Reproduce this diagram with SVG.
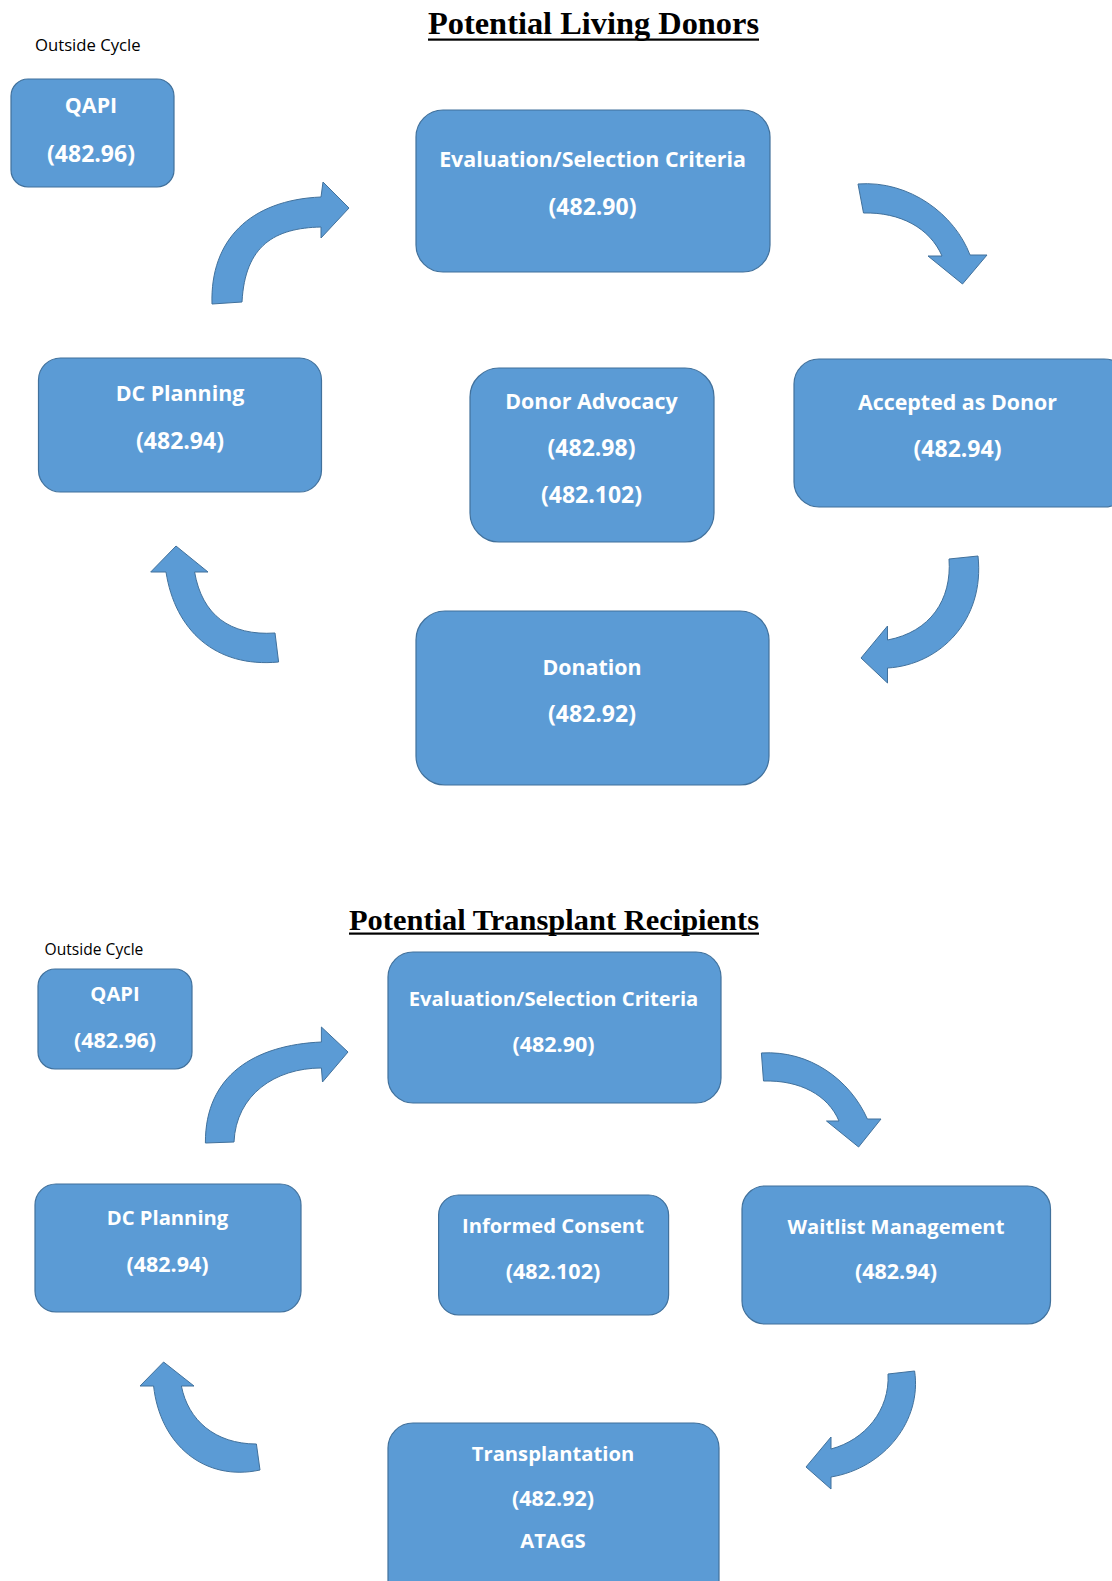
<svg xmlns="http://www.w3.org/2000/svg" width="1112" height="1581" viewBox="0 0 1112 1581">
<style>
.box{fill:#5B9BD5;stroke:#41719C;stroke-width:1.2}
.arr{fill:#5B9BD5;stroke:#41719C;stroke-width:1}
.t1{font-family:"Open Sans","Liberation Sans",sans-serif;font-weight:bold;font-size:21.4px;fill:#fff;text-anchor:middle}
.n1{font-family:"Open Sans","Liberation Sans",sans-serif;font-weight:bold;font-size:23px;fill:#fff;text-anchor:middle}
.t2{font-family:"Open Sans","Liberation Sans",sans-serif;font-weight:bold;font-size:20.2px;fill:#fff;text-anchor:middle}
.n2{font-family:"Open Sans","Liberation Sans",sans-serif;font-weight:bold;font-size:21.5px;fill:#fff;text-anchor:middle}
.oc{font-family:"Open Sans","Liberation Sans",sans-serif;fill:#000}
.title{font-family:"Liberation Serif","Times New Roman",serif;font-weight:bold;fill:#000}
</style>
<rect width="1112" height="1581" fill="#fff"/>

<!-- Top section -->
<text class="title" x="428" y="33.5" font-size="32" textLength="331" lengthAdjust="spacingAndGlyphs">Potential Living Donors</text>
<rect x="428" y="38.5" width="331" height="2.2" fill="#000"/>
<text class="oc" x="35" y="50.5" font-size="16.7">Outside Cycle</text>

<g id="qapi1"><rect class="box" x="11" y="79" width="163" height="108" rx="17"/>
<text class="t1" x="91" y="113">QAPI</text><text class="n1" x="91" y="162">(482.96)</text></g>

<g id="eval1"><rect class="box" x="416" y="110" width="354" height="162" rx="27"/>
<text class="t1" x="592.5" y="167">Evaluation/Selection Criteria</text><text class="n1" x="592.5" y="215">(482.90)</text></g>

<g id="dc1"><rect class="box" x="38.5" y="358" width="283" height="134" rx="22"/>
<text class="t1" x="180" y="401">DC Planning</text><text class="n1" x="180" y="449">(482.94)</text></g>

<g id="adv1"><rect class="box" x="470" y="368" width="244" height="174" rx="29"/>
<text class="t1" x="591.5" y="409">Donor Advocacy</text><text class="n1" x="591.5" y="456">(482.98)</text><text class="n1" x="591.5" y="503">(482.102)</text></g>

<g id="acc1"><rect class="box" x="794" y="359" width="335" height="148" rx="25"/>
<text class="t1" x="957.5" y="410">Accepted as Donor</text><text class="n1" x="957.5" y="457">(482.94)</text></g>

<g id="don1"><rect class="box" x="416" y="611" width="353" height="174" rx="29"/>
<text class="t1" x="592" y="675">Donation</text><text class="n1" x="592" y="722">(482.92)</text></g>

<!-- Bottom section -->
<text class="title" x="349" y="930" font-size="30" textLength="410" lengthAdjust="spacingAndGlyphs">Potential Transplant Recipients</text>
<rect x="349" y="932.5" width="410" height="2.2" fill="#000"/>
<text class="oc" x="44.6" y="955" font-size="15.6">Outside Cycle</text>

<g id="qapi2"><rect class="box" x="38" y="969" width="154" height="100" rx="17"/>
<text class="t2" x="115" y="1001">QAPI</text><text class="n2" x="115" y="1048">(482.96)</text></g>

<g id="eval2"><rect class="box" x="388" y="952" width="333" height="151" rx="25"/>
<text class="t2" x="553.5" y="1006">Evaluation/Selection Criteria</text><text class="n2" x="553.5" y="1052">(482.90)</text></g>

<g id="dc2"><rect class="box" x="35" y="1184" width="266" height="128" rx="21"/>
<text class="t2" x="167.5" y="1225">DC Planning</text><text class="n2" x="167.5" y="1272">(482.94)</text></g>

<g id="ic2"><rect class="box" x="438.6" y="1195" width="230" height="120" rx="20"/>
<text class="t2" x="553" y="1233">Informed Consent</text><text class="n2" x="553" y="1279">(482.102)</text></g>

<g id="wl2"><rect class="box" x="742" y="1186" width="308.5" height="138" rx="23"/>
<text class="t2" x="896" y="1234">Waitlist Management</text><text class="n2" x="896" y="1279">(482.94)</text></g>

<g id="tr2"><rect class="box" x="388" y="1423" width="331" height="185" rx="25"/>
<text class="t2" x="553" y="1461">Transplantation</text><text class="n2" x="553" y="1506">(482.92)</text><text class="t2" x="553" y="1548">ATAGS</text></g>

<g id="connectors">
<path class="arr" d="M212,304 C210,240 250,200 321,197 L323,182 L349,208 L321,238 L321,227 C275,228 245,245 242,302 Z"/>
<path class="arr" d="M858,184 C910,180 955,215 970,255 L987,255 L962.5,284 L928,256 L942,256 C930,228 900,212 863.5,213 Z"/>
<path class="arr" d="M949,559 L978,556 C985,620 940,665 887.5,668 L887.5,683 L861,658 L887.5,626 L887.5,640 C930,632 952,600 949,559 Z"/>
<path class="arr" d="M176,546 L208,572 L194.6,572 C202,615 230,636 275,633 L278.6,662 C215,668 175,630 166,572 L150.7,572 Z"/>
<path class="arr" d="M205.4,1143 C205,1075 255,1045 321.4,1042 L321.4,1027 L348,1052 L322.5,1082 L321.4,1068 C275,1068 236,1095 234,1142 Z"/>
<path class="arr" d="M761.4,1053 C810,1050 850,1080 867.4,1119 L881,1119 L858.6,1147 L826.5,1121 L839,1121 C828,1095 800,1080 763.5,1081 Z"/>
<path class="arr" d="M888,1374 L914.6,1371 C922,1420 885,1468 831,1477 L831,1489 L806,1467 L831,1437 L831,1449 C865,1440 890,1410 888,1374 Z"/>
<path class="arr" d="M163.6,1362 L194,1386 L181.4,1386 C188,1420 215,1444 256.4,1444 L260,1470 C205,1482 160,1445 153.6,1386 L140,1386 Z"/>
</g>
</svg>
